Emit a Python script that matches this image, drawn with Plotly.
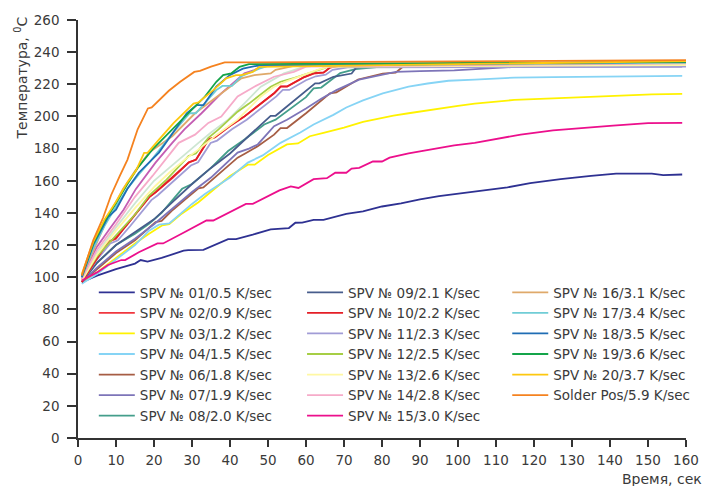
import plotly.graph_objects as go

# ---------------- data (time, s / temperature, degC) ----------------
t_01 = [1, 5, 10, 15, 16.5, 18.3, 22, 27.8, 29, 33, 39.5, 41.6, 46, 50.7, 55.5, 57.2, 59, 62, 64.6, 67.2, 70.6, 75, 80, 85, 90, 95, 100, 103.5, 113, 119, 127, 135, 141.6, 151, 154, 159]
T_01 = [97, 101, 105, 108.5, 110.7, 109.7, 112, 116.5, 116.9, 117, 123.7, 123.7, 126.5, 129.8, 130.6, 133.9, 134, 135.7, 135.7, 137.4, 139.4, 141, 144, 146, 148.5, 150.5, 152, 153.2, 155.9, 158.5, 161, 163, 164.5, 164.5, 163.5, 163.9]

t_02 = [1, 5, 7.9, 10, 13, 18.7, 20.4, 25, 29.1, 31, 34.3, 36, 40, 43.8, 46, 51.6, 53.3, 55, 59.4, 62, 64.6, 66.3, 70, 160]
T_02 = [97, 112, 122, 124, 133.3, 149.7, 152.8, 162, 171.3, 173, 185.6, 187, 194, 200, 204, 214.4, 218.5, 218.5, 224.3, 226.7, 227.2, 230.4, 232, 232.5]

t_03 = [1, 5, 10, 15, 18.7, 22.2, 24, 27, 31.7, 36.9, 40, 44.7, 46.5, 50, 55, 57.9, 61, 64.6, 70, 75, 78.4, 83, 87, 91, 95.8, 100, 104.4, 114.8, 125, 140.8, 151, 159]
T_03 = [97, 103, 112, 121, 127, 132.3, 133, 139, 146.6, 157, 163, 170, 170, 176, 182.6, 183.2, 187.7, 189.8, 193, 196.6, 198.4, 200.5, 202, 203.5, 205.2, 206.6, 208, 210.3, 211.3, 213, 213.8, 214]

t_04 = [1, 5, 10, 15, 18.7, 21.3, 24, 30, 33.4, 36.9, 40, 44.7, 48.6, 53.3, 58.5, 62, 67.2, 70.6, 75, 80.2, 87, 92, 97.5, 104.4, 114.8, 125, 140.8, 159]
T_04 = [96, 102, 111, 120, 129, 132.7, 133.5, 145.6, 151.8, 157, 162, 171.3, 175.8, 183.6, 190, 195, 201, 205.6, 210, 214.4, 218.5, 220.5, 222.2, 222.9, 224.2, 224.5, 224.7, 225.3]

t_06 = [1, 5, 10, 15, 18.7, 20.4, 22, 25, 28, 31.7, 33, 38, 42, 44, 47.3, 51.6, 53.3, 55, 60, 66.3, 68, 73.7, 80.2, 83.6, 85.4, 90, 100, 120, 159]
T_06 = [97, 105, 115, 123, 131, 134.3, 135, 142, 148, 155.3, 155.9, 166, 174.4, 177, 181.5, 188.7, 192.8, 192.8, 202, 214.4, 215, 223, 226.7, 227.2, 230.8, 231, 231.5, 231.5, 232]

t_07 = [1, 5, 10, 15, 20, 25, 30, 35, 42, 45, 47.3, 51.6, 55, 60, 64, 68, 74, 78, 83.6, 90, 99, 115, 159]
T_07 = [97, 106, 116, 124, 133, 143, 153, 162, 177.5, 180, 182.6, 193.9, 198, 205, 211, 216.4, 222.9, 225, 227.7, 228.2, 228.7, 230.8, 231]

t_08 = [1, 5, 10, 15, 18.7, 22, 27.4, 30, 35, 39.5, 44, 49, 52, 56, 60, 62, 64, 69, 73, 80, 160]
T_08 = [97, 109, 120, 127, 133.3, 140, 155, 158, 168, 178.5, 186, 195, 198, 205, 212, 217.5, 218, 227, 229.5, 231, 232.5]

t_09 = [1, 5, 10, 15, 20, 25, 30, 35, 40, 45, 50.7, 52, 56, 60, 62.4, 63.5, 67.2, 72, 73.2, 80, 160]
T_09 = [97, 109, 120, 128, 136, 147, 158, 168, 177, 188, 200.4, 200.4, 208, 216, 220.6, 220.6, 224.7, 226.7, 230.4, 232, 233]

t_10 = [1, 5, 8, 10, 13.2, 18.8, 20.5, 25, 29.2, 31.1, 34.4, 36.1, 40, 43.9, 46, 51.7, 53.4, 55.1, 59.5, 62.1, 64.7, 66.4, 70, 160]
T_10 = [97, 112, 122, 124.5, 133.5, 150, 153, 162.3, 171.5, 173.2, 185.8, 187.2, 194.2, 200.2, 204.2, 214.6, 218.7, 218.7, 224.5, 226.9, 227.4, 230.6, 232.2, 232.5]

t_11 = [1, 5, 8.5, 10.5, 13.8, 19.3, 21, 25.5, 29.7, 31.6, 34.9, 36.6, 40.5, 44.4, 46.5, 52.2, 53.9, 55.6, 60, 62.6, 65.2, 67, 71, 160]
T_11 = [97, 111, 121, 123, 132, 148, 151, 160.5, 169.5, 171.5, 183.5, 185, 192, 198, 202, 212.5, 216.5, 216.5, 222.5, 225, 226, 229, 230.5, 231]

t_12 = [1, 5, 10, 15, 18.7, 23, 29.1, 31, 34.3, 37, 42, 45, 50.7, 53.3, 57, 60.3, 63, 66, 160]
T_12 = [98, 113, 126, 139, 150.8, 160, 175.4, 177, 186.7, 192, 203, 208, 218.5, 221.6, 224, 226.7, 229, 231, 232.5]

t_13 = [1, 5, 10, 15, 20, 24, 28.2, 32, 36, 42, 48.1, 51.6, 55, 59.4, 63, 66, 160]
T_13 = [98, 114, 129, 143, 156, 165, 173.3, 180, 187.7, 198, 212.4, 218.5, 222, 226, 229, 231, 232]

t_14 = [1, 5, 10, 15, 19.6, 23, 26.5, 30.8, 34.3, 37.7, 42, 46.4, 51.6, 56.8, 60, 160]
T_14 = [99, 117, 133, 150, 163, 173, 183.6, 188.7, 196, 200, 212.4, 218.5, 224.7, 227.7, 231, 233]

t_15 = [1, 5, 7.9, 11.4, 12.4, 16, 20.9, 22.4, 28, 33.8, 35.6, 40, 44.2, 46, 50, 53, 56, 58, 62, 65.5, 67.7, 70.6, 72, 74, 77.6, 80, 82, 87, 93, 99, 104.4, 110, 116.5, 125, 133, 140.8, 150, 159]
T_15 = [98, 103, 107.6, 110.7, 110.7, 115.5, 121, 121, 128, 135.3, 135.3, 140.5, 145.6, 145.6, 150.5, 154, 156.5, 155.5, 161, 161.6, 165, 165, 167.6, 168, 172, 172, 174.4, 177, 179.5, 182, 183.6, 186, 188.7, 191.4, 193, 194.3, 195.9, 196]

t_16 = [1, 5, 8, 11.8, 15, 18.7, 24.8, 30.8, 37.7, 43, 46.4, 50.7, 52, 56.8, 160]
T_16 = [100, 122, 138, 154.8, 166, 177.5, 187.7, 202, 214.4, 223.7, 225.7, 226.8, 229, 231.5, 233.5]

t_17 = [1, 4, 7, 10, 13, 16, 19, 22, 25, 29.4, 31, 36.4, 38, 40.5, 43, 47.7, 50, 160]
T_17 = [100, 118, 132, 144, 155, 164, 172, 181, 190, 202, 202, 216.4, 219, 219, 225, 229.7, 231.5, 233.5]

t_18 = [1, 4, 7.9, 10, 13, 16, 21.3, 25, 28.6, 31.2, 33, 36.4, 39.9, 43.4, 47, 160]
T_18 = [100, 120, 137.4, 142, 155, 165, 177.5, 190, 202, 207, 207, 218.6, 225.7, 229.7, 231.5, 234]

t_19 = [1, 4, 7, 10, 13, 15.7, 19.6, 23, 27.8, 30.4, 33.4, 36.4, 38.2, 40.3, 42.5, 45, 160]
T_19 = [101, 121, 135, 146, 158, 168, 179.5, 187.7, 199, 205, 212.4, 221.6, 225.7, 226.8, 230.8, 232.5, 234]

t_20 = [1, 4, 7, 10, 13, 15.2, 17.4, 18.3, 21.3, 25.2, 30.4, 31.7, 35.6, 39, 41.6, 43, 46, 47.7, 160]
T_20 = [102, 122, 136, 147, 159, 166, 177.4, 177.4, 185.6, 196, 208, 208.7, 216.4, 223.7, 225.7, 225.7, 227.7, 230.8, 234.5]

t_sp = [1, 4, 6.6, 8.7, 11, 13, 15.7, 18.4, 19.4, 21.3, 23.9, 26.9, 30.6, 32.1, 35, 38.6, 160]
T_sp = [101, 123, 137, 151, 163, 173, 192, 205, 205.6, 210, 216, 221.6, 227.7, 228.4, 231, 233.6, 235]

# two curves visible in the picture without a legend entry
t_mint = [1, 5, 10, 15, 20, 26.5, 31.7, 35, 39.5, 43.8, 48.1, 54.2, 59.4, 64, 160]
T_mint = [98, 115, 131, 146, 160, 173.3, 183.6, 190, 198, 208.2, 218.5, 226.8, 230.8, 232, 233]
t_orch = [1, 5, 8.3, 12, 15.2, 20.4, 24.8, 28, 32.5, 37.7, 43.8, 46.4, 49, 160]
T_orch = [99, 119, 130, 142, 154.8, 171.3, 183.6, 192, 202, 214.4, 226.8, 228.8, 231.9, 233.5]

x_ticks = list(range(0, 161, 10))
y_ticks = list(range(0, 261, 20))

# (label, t, T, colour, legend column, rank in column) in drawing order
series = [
    (None, t_mint, T_mint, "#cde6d2", None, None),
    (None, t_orch, T_orch, "#c45db3", None, None),
    ("SPV № 01/0.5 K/sec", t_01, T_01, "#2e3192", "legend", 1),
    ("SPV № 03/1.2 K/sec", t_03, T_03, "#fff200", "legend", 3),
    ("SPV № 04/1.5 K/sec", t_04, T_04, "#86d4f5", "legend", 4),
    ("SPV № 06/1.8 K/sec", t_06, T_06, "#a65d44", "legend", 5),
    ("SPV № 07/1.9 K/sec", t_07, T_07, "#7d74b8", "legend", 6),
    ("SPV № 08/2.0 K/sec", t_08, T_08, "#449e8b", "legend", 7),
    ("SPV № 09/2.1 K/sec", t_09, T_09, "#475d8c", "legend2", 1),
    ("SPV № 11/2.3 K/sec", t_11, T_11, "#a19cd6", "legend2", 3),
    ("SPV № 02/0.9 K/sec", t_02, T_02, "#f0373f", "legend", 2),
    ("SPV № 10/2.2 K/sec", t_10, T_10, "#e41e26", "legend2", 2),
    ("SPV № 12/2.5 K/sec", t_12, T_12, "#a6ce45", "legend2", 4),
    ("SPV № 13/2.6 K/sec", t_13, T_13, "#fff8a3", "legend2", 5),
    ("SPV № 14/2.8 K/sec", t_14, T_14, "#f6abc9", "legend2", 6),
    ("SPV № 15/3.0 K/sec", t_15, T_15, "#ec0f8c", "legend2", 7),
    ("SPV № 16/3.1 K/sec", t_16, T_16, "#dfa96a", "legend3", 1),
    ("SPV № 17/3.4 K/sec", t_17, T_17, "#70cdd6", "legend3", 2),
    ("SPV № 18/3.5 K/sec", t_18, T_18, "#1f6db4", "legend3", 3),
    ("SPV № 19/3.6 K/sec", t_19, T_19, "#14a44a", "legend3", 4),
    ("SPV № 20/3.7 K/sec", t_20, T_20, "#fdc80f", "legend3", 5),
    ("Solder Pos/5.9 K/sec", t_sp, T_sp, "#f5821f", "legend3", 6),
]

FONT = "DejaVu Sans"
TXT = "#3a3a3a"
LEG_FONT = dict(family=FONT, size=13.5, color=TXT)

fig = go.Figure()
for name, tx, ty, col, leg, rank in series:
    kw = dict(x=tx, y=ty, mode="lines", line=dict(color=col, width=1.8))
    if name is None:
        kw.update(showlegend=False, hoverinfo="skip")
    else:
        kw.update(name=name, legend=leg, legendrank=rank)
    fig.add_trace(go.Scatter(**kw))

leg_y = 0.385
leg_common = dict(orientation="v", y=leg_y, xanchor="left", yanchor="top",
                  bgcolor="rgba(0,0,0,0)", itemwidth=36, font=LEG_FONT)
fig.update_layout(
    width=711, height=486,
    margin=dict(l=78, r=17, t=16, b=48),
    paper_bgcolor="white", plot_bgcolor="white",
    font=dict(family=FONT, size=13.5, color=TXT),
    legend=dict(x=0.026, **leg_common),
    legend2=dict(x=0.3685, **leg_common),
    legend3=dict(x=0.706, **leg_common),
    showlegend=True,
)
fig.update_xaxes(range=[0, 160], tickvals=x_ticks, ticktext=[str(v) for v in x_ticks],
                 showgrid=False, zeroline=False, showline=True, linecolor="#333333", linewidth=1.5,
                 ticks="outside", ticklen=7, tickwidth=1.5, tickcolor="#333333",
                 ticklabelstandoff=2, tickfont=dict(family=FONT, size=13.5, color=TXT))
fig.update_yaxes(range=[0, 260], tickvals=y_ticks, ticktext=[str(v) for v in y_ticks],
                 showgrid=False, zeroline=False, showline=True, linecolor="#333333", linewidth=1.5,
                 ticks="outside", ticklen=9, tickwidth=1.5, tickcolor="#333333",
                 ticklabelstandoff=5, tickfont=dict(family=FONT, size=13.5, color=TXT))

fig.add_annotation(text="Температура, <sup>0</sup>C", textangle=-90, showarrow=False,
                   xref="paper", yref="paper", x=-0.094, y=1.014, xanchor="center", yanchor="top",
                   font=dict(family=FONT, size=14, color=TXT))
fig.add_annotation(text="Время, сек", showarrow=False,
                   xref="paper", yref="paper", x=1.03, y=-0.097, xanchor="right", yanchor="middle",
                   font=dict(family=FONT, size=14, color=TXT))

fig.write_html("out.html")
